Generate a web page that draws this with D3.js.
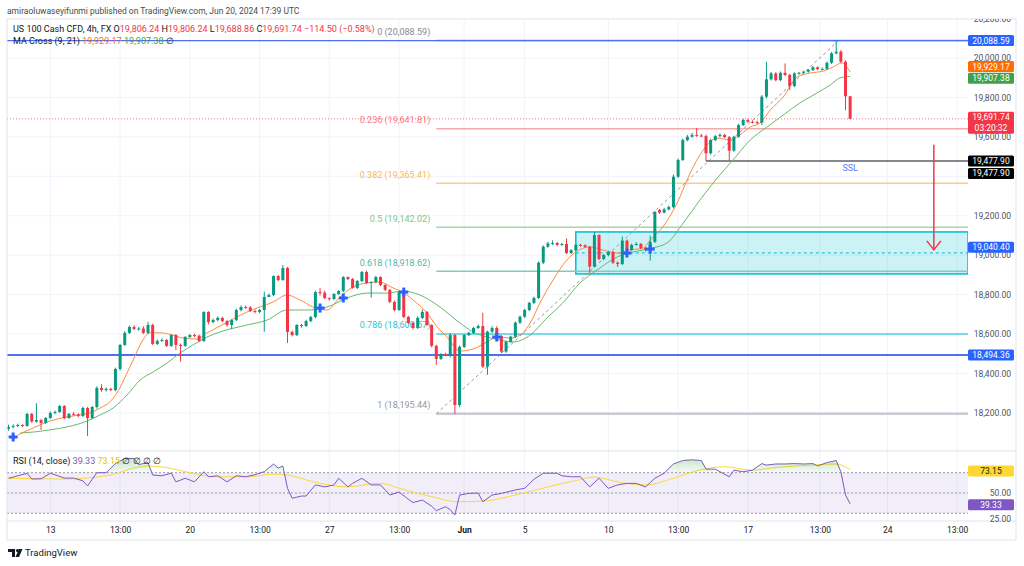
<!DOCTYPE html>
<html>
<head>
<meta charset="utf-8">
<script src="https://cdn.jsdelivr.net/npm/d3@7"></script>
<style>
  body { margin: 0; background: #fff; }
  svg { display: block; font-family: Roboto, "Liberation Sans", Arial, sans-serif; }
</style>
</head>
<body>
<svg id="chart" width="1024" height="566"></svg>
<script>
// Data (4h bars, index 0 = first bar on screen)____________________________
const opens = [
  18120,18129,18134,18139,18134,18195,18156,18164,18149,18174,
  18200,18205,18235,18174,18195,18193,18185,18225,18174,18230,
  18327,18316,18322,18316,18423,18545,18606,18636,18626,18628,
  18606,18646,18550,18565,18570,18540,18595,18545,18540,18585,
  18595,18592,18565,18712,18661,18671,18682,18666,18646,18671,
  18722,18737,18735,18717,18712,18722,18788,18798,18894,18874,
  18935,18611,18595,18646,18641,18666,18687,18813,18810,18782,
  18778,18803,18818,18889,18879,18834,18869,18915,18859,18864,
  18889,18849,18824,18763,18722,18813,18687,18656,18631,18682,
  18712,18646,18540,18474,18499,18489,18595,18240,18535,18595,
  18606,18631,18641,18435,18612,18631,18590,18511,18561,18587,
  18658,18688,18722,18758,18783,18962,19043,19060,19062,19052,
  19057,19011,19026,19052,19050,19042,18942,19102,18981,19001,
  19016,18962,18955,19074,19026,19052,19057,19037,19026,19068,
  19229,19216,19232,19244,19398,19483,19584,19601,19610,19607,
  19604,19517,19584,19604,19610,19599,19530,19601,19660,19686,
  19677,19675,19672,19804,19892,19922,19888,19925,19914,19858,
  19922,19925,19931,19939,19953,19944,19945,19976,20024,20032,
  19981,19806.24
];
const highs = [
  18140,18142,18146,18143,18200,18200,18249,18170,18180,18207,
  18212,18240,18240,18200,18205,18198,18232,18230,18236,18335,
  18345,18330,18328,18430,18550,18615,18643,18645,18636,18640,
  18662,18652,18572,18578,18575,18600,18600,18552,18590,18600,
  18602,18597,18716,18716,18678,18690,18688,18672,18676,18728,
  18745,18745,18742,18725,18728,18815,18805,18898,18900,18950,
  18940,18618,18650,18652,18672,18692,18820,18833,18820,18786,
  18808,18823,18894,18893,18884,18874,18920,18922,18868,18895,
  18893,18853,18828,18770,18820,18818,18692,18662,18690,18725,
  18718,18650,18546,18503,18505,18605,18600,18542,18600,18612,
  18636,18648,18708,18617,18640,18640,18595,18566,18592,18664,
  18694,18728,18764,18790,18968,19050,19068,19075,19068,19062,
  19085,19030,19056,19058,19055,19048,19118,19106,19006,19022,
  19022,18968,19095,19080,19058,19066,19062,19042,19100,19225,
  19235,19240,19252,19410,19490,19592,19610,19620,19645,19615,
  19612,19590,19610,19618,19616,19605,19606,19666,19692,19692,
  19684,19682,19812,19981,19930,19928,19932,19973,19920,19928,
  19930,19936,19945,19960,19958,19952,19982,20030,20088.59,20040,
  19988,19806.24
];
const lows = [
  18110,18122,18128,18128,18130,18150,18150,18114,18145,18170,
  18193,18200,18168,18170,18186,18178,18180,18083,18168,18222,
  18308,18309,18310,18310,18415,18540,18600,18620,18618,18600,
  18600,18545,18545,18560,18535,18535,18519,18460,18535,18580,
  18585,18560,18560,18650,18655,18665,18660,18638,18625,18666,
  18715,18728,18712,18705,18706,18612,18790,18792,18868,18870,
  18555,18588,18590,18632,18636,18660,18680,18795,18778,18770,
  18772,18798,18813,18874,18830,18828,18864,18854,18785,18858,
  18843,18818,18757,18715,18718,18680,18650,18622,18626,18676,
  18640,18533,18444,18469,18488,18482,18195.44,18230,18529,18590,
  18600,18626,18428,18393,18606,18585,18503,18505,18556,18580,
  18652,18682,18716,18752,18778,18955,19038,19052,19046,19048,
  19005,19006,19020,19044,19036,18910,18938,18975,18975,18995,
  18955,18940,18950,19020,19022,19048,19030,19018,18972,19062,
  19210,19212,19228,19238,19392,19478,19578,19596,19600,19598,
  19477.9,19510,19578,19598,19594,19477.9,19525,19596,19655,19670,
  19668,19664,19660,19795,19886,19882,19882,19908,19838,19852,
  19916,19920,19926,19934,19938,19938,19940,19970,20018,19975,
  19736,19688.86
];
const closes = [
  18129,18134,18139,18134,18195,18156,18164,18149,18174,18200,
  18205,18235,18174,18195,18193,18185,18225,18174,18230,18327,
  18316,18322,18316,18423,18545,18606,18636,18626,18628,18606,
  18646,18550,18565,18570,18540,18595,18545,18540,18585,18595,
  18592,18565,18712,18661,18671,18682,18666,18646,18671,18722,
  18737,18735,18717,18712,18722,18788,18798,18894,18874,18935,
  18611,18595,18646,18641,18666,18687,18813,18810,18782,18778,
  18803,18818,18889,18879,18834,18869,18915,18859,18864,18889,
  18849,18824,18763,18722,18813,18687,18656,18631,18682,18712,
  18646,18540,18474,18499,18494,18595,18240,18535,18595,18606,
  18631,18641,18435,18612,18631,18590,18511,18561,18587,18658,
  18688,18722,18758,18783,18962,19043,19060,19062,19052,19057,
  19011,19026,19052,19050,19042,18942,19102,18981,19001,19016,
  18962,18955,19074,19026,19052,19057,19037,19026,19068,19219,
  19216,19232,19244,19398,19483,19584,19601,19610,19607,19604,
  19517,19584,19604,19610,19599,19530,19601,19660,19686,19677,
  19675,19672,19804,19892,19922,19888,19925,19914,19858,19922,
  19925,19931,19939,19953,19944,19945,19976,20024,20032,19981,
  19806.24,19691.74
];

// MA Cross (9, 21)
const ma9Idx = [2,5.3,8.9,12.6,15.4,17.5,19.7,21.8,23.3,25.5,26.8,28.9,30.4,32.6,35.4,37.5,40.5,42.7,45.5,51.3,56.9,59.9,62.7,65.5,68.5,71.3,74.1,77.1,79.9,82.7,84.8,87,90,92.2,94.3,97.1,99.9,102.9,105.1,107.8,110,112.2,114.3,117.1,120.1,122.3,125,127.9,130.9,133.6,136.5,138,140.7,143.8,146.6,149.4,152.4,155.2,157.3,159.5,161.6,163.8,166.6,169.6,172.4,175.2,177.3,179.2,181];
const ma9Vals = [18088,18124,18159,18180,18190,18200,18225,18256,18301,18403,18469,18570,18606,18606,18595,18580,18575,18606,18641,18712,18763,18798,18773,18737,18722,18788,18839,18859,18864,18834,18813,18773,18707,18636,18585,18514,18524,18560,18585,18580,18595,18656,18758,18874,18976,19021,19042,19026,19011,19026,19037,19077,19143,19265,19417,19533,19594,19584,19610,19650,19670,19736,19802,19904,19924,19934,19954,19975,19929.17];
const ma21Idx = [2.5,5.3,8.9,12.6,16.9,19.7,22.5,25.5,28.3,31.1,34.1,36.9,39.7,42.7,45.5,51.3,55.6,59.9,64.2,68.5,72.8,77.1,81.4,84.8,88.5,92.8,97.1,99.9,102.9,105.7,108.5,112.2,115.8,119.2,122.9,126.6,130.9,134.3,137.3,141.6,145.1,148.7,152.4,155.8,159.5,163.1,166.6,170.2,173.9,176.7,178.8,181];
const ma21Vals = [18098,18103,18114,18129,18159,18190,18225,18291,18367,18408,18453,18504,18545,18585,18611,18646,18671,18722,18722,18737,18783,18808,18808,18818,18798,18737,18656,18611,18585,18570,18560,18595,18682,18758,18859,18925,18991,19016,19031,19062,19163,19280,19391,19483,19584,19650,19711,19772,19823,19863,19899,19907.38];
const crossIdx = [1, 67, 72, 85, 105, 133, 138];
const crossVals = [18078, 18732, 18783, 18813, 18585, 19011, 19031];

// RSI (14, close) and its moving average
const rsiIdx = [0,4,5,7,9,12,14,16,17,19,21,23,25,27,28,30,31,33,35,36,38,40,42,43,45,47,49,51,53,55,57,58,59,60,61,63,64,66,68,70,71,73,74,76,78,80,81,82,84,86,87,89,91,92,94,95,96,97,99,101,102,104,106,109,111,113,115,118,119,121,123,125,127,129,131,133,135,137,139,141,143,145,147,149,150,152,153,155,156,158,160,162,163,165,167,169,171,173,174,176,178,179,180,181];
const rsiVals = [64.5,69.4,63.8,64,69.5,64.7,64.7,62,56.9,70,70,79,84,84,78,80,67.7,67,69.5,61,64.5,61,71,66,67,61,67,66,68,71,78.6,74.5,76.6,54.6,44.8,47,47,58,56,58,64.5,56,59.5,64.5,58,58,53,48,51,43.8,40.6,43,37,32.6,36.5,33.5,28.3,48,49.6,50,41.4,48,49.6,53,54.6,63.5,69.5,69.5,67,66,66,56,64.5,54.6,58,59.5,59.5,56,64.5,69.5,78.6,82,82.7,82,73.5,73.5,71,66,72.5,71,72.5,79,77.5,78.6,78.6,79,78.6,79,76.6,80,82,71,48,39.33];
const rsiMaIdx = [0,12,19,23.5,26,30.4,34.7,39,44.5,51.5,57,60,65.6,72.6,79.6,85.3,90.9,96.5,102,109,116,121.8,126,131.6,137.2,142.9,148.5,154.1,159.7,165.3,172.4,177.9,181];
const rsiMaVals = [64.5,63.8,65.7,69.5,73.5,76.6,74.5,70,66,66,68.6,67.7,61,56,59.5,53,46.5,41.4,42,48,56,62,65.7,60.3,58,64.5,72.5,75.9,72.5,75.2,77.5,78.6,73.15];
const rsiLevels = [70, 50, 30];

// Axes
const priceTicks = [18200, 18400, 18600, 18800, 19000, 19200, 19400, 19600, 19800, 20000, 20200];
const rsiTicks = [50, 25];
const timeTickIdx = [9, 24, 39, 54, 69, 84, 98, 111, 129, 144, 159, 174.5, 189, 204];
const timeTickLabels = ['13', '13:00', '20', '13:00', '27', '13:00', 'Jun', '5', '10', '13:00', '17', '13:00', '24', '13:00'];

// Drawings
const fibLevels = [0, 0.236, 0.382, 0.5, 0.618, 0.786, 1];
const fibLineColors = ['#9598a1', '#f7a7ab', '#ffcc80', '#a5d6a7', '#80cbc4', '#4dd0e1', '#c8cad0'];
const fibTextColors = ['#868993', '#f77c80', '#ffb74d', '#81c784', '#4db6ac', '#26c6da', '#9598a1'];
const fibHigh = 20088.59, fibLow = 18195.44;
const fibStartIdx = 92, fibTopIdx = 178.5;
const levelLines = [20088.59, 18494.36];
const lastPrice = 19691.74;
const zoneTop = 19118, zoneBottom = 18905, zoneStartIdx = 122, zoneTag = 19040.40;
const sslPrice = 19477.90, sslStartIdx = 150;
const arrowIdx = 199, arrowFrom = 19560, arrowTo = 19027;

// Layout_________________________________________________________________
const svg = d3.select('#chart');
const left = 7, plotRight = 968, right = 1016;
const mainTop = 19, mainBottom = 450, rsiTop = 451, rsiBottom = 521, bottom = 540;
const fmt = d3.format(',.2f');
const fmt2 = v => fmt(Math.round(v * 100 + 1e-6) / 100);

const x = d3.scaleLinear().domain([0, 206]).range([8.5, 8.5 + 4.65 * 206]);
const y = d3.scaleLinear().domain([18012, 20198]).range([mainBottom, mainTop]);
const yr = d3.scaleLinear().domain([22.4, 91.4]).range([rsiBottom, rsiTop]);

const defs = svg.append('defs');
defs.append('clipPath').attr('id', 'clipMain')
  .append('rect').attr('x', left).attr('y', mainTop).attr('width', plotRight - left).attr('height', mainBottom - mainTop);
defs.append('clipPath').attr('id', 'clipAxis')
  .append('rect').attr('x', plotRight).attr('y', mainTop).attr('width', right - plotRight).attr('height', mainBottom - mainTop);
defs.append('clipPath').attr('id', 'clipRsi')
  .append('rect').attr('x', left).attr('y', rsiTop).attr('width', plotRight - left).attr('height', rsiBottom - rsiTop);
defs.append('clipPath').attr('id', 'clipOver')
  .append('rect').attr('x', left).attr('y', rsiTop).attr('width', plotRight - left).attr('height', yr(70) - rsiTop);
const grad = defs.append('linearGradient').attr('id', 'overGrad')
  .attr('gradientUnits', 'userSpaceOnUse').attr('x1', 0).attr('x2', 0).attr('y1', rsiTop).attr('y2', yr(70));
grad.append('stop').attr('offset', 0).attr('stop-color', '#4caf50').attr('stop-opacity', 0.45);
grad.append('stop').attr('offset', 1).attr('stop-color', '#4caf50').attr('stop-opacity', 0.05);

// Grid___________________________________________________________________
const grid = svg.append('g').attr('stroke', '#f0f3fa').attr('stroke-width', 1);
grid.selectAll('.vg').data(timeTickIdx).enter().append('line')
  .attr('x1', d => x(d)).attr('x2', d => x(d)).attr('y1', mainTop).attr('y2', rsiBottom);
grid.selectAll('.hg').data(priceTicks).enter().append('line')
  .attr('x1', left).attr('x2', plotRight).attr('y1', d => y(d)).attr('y2', d => y(d))
  .attr('clip-path', 'url(#clipMain)');

// Main pane______________________________________________________________
const main = svg.append('g').attr('clip-path', 'url(#clipMain)');

// demand zone
main.append('rect')
  .attr('x', x(zoneStartIdx)).attr('y', y(zoneTop))
  .attr('width', plotRight - x(zoneStartIdx)).attr('height', y(zoneBottom) - y(zoneTop))
  .attr('fill', 'rgba(0,188,212,0.2)').attr('stroke', '#00bcd4').attr('stroke-width', 1.5);
main.append('line')
  .attr('x1', x(zoneStartIdx)).attr('x2', plotRight)
  .attr('y1', y((zoneTop + zoneBottom) / 2)).attr('y2', y((zoneTop + zoneBottom) / 2))
  .attr('stroke', '#00bcd4').attr('stroke-dasharray', '3,3');

// fibonacci retracement
const fibPrice = l => fibHigh - l * (fibHigh - fibLow);
main.selectAll('.fib').data(fibLevels).enter().append('line')
  .attr('x1', x(fibStartIdx)).attr('x2', plotRight)
  .attr('y1', d => y(fibPrice(d))).attr('y2', d => y(fibPrice(d)))
  .attr('stroke', (d, i) => fibLineColors[i])
  .attr('stroke-width', d => d === 1 ? 2.5 : 1.5);
main.append('line')
  .attr('x1', x(fibStartIdx)).attr('y1', y(fibLow))
  .attr('x2', x(fibTopIdx)).attr('y2', y(fibHigh))
  .attr('stroke', '#9598a1').attr('stroke-dasharray', '3,3');
main.selectAll('.fibText').data(fibLevels).enter().append('text')
  .attr('x', x(fibStartIdx) - 6).attr('y', d => y(fibPrice(d)) - 8)
  .attr('text-anchor', 'end').attr('dominant-baseline', 'middle')
  .attr('font-size', 9).attr('fill', (d, i) => fibTextColors[i])
  .text(d => `${d} (${fmt2(fibPrice(d))})`);

// horizontal levels
main.selectAll('.lvl').data(levelLines).enter().append('line')
  .attr('x1', left).attr('x2', plotRight)
  .attr('y1', d => y(d)).attr('y2', d => y(d))
  .attr('stroke', '#4f6ff5').attr('stroke-width', (d, i) => i === 0 ? 1.2 : 2);
main.append('line')
  .attr('x1', left).attr('x2', plotRight).attr('y1', y(lastPrice)).attr('y2', y(lastPrice))
  .attr('stroke', '#f23645').attr('stroke-opacity', 0.7).attr('stroke-dasharray', '1,2');

// SSL line
main.append('line')
  .attr('x1', x(sslStartIdx)).attr('x2', plotRight).attr('y1', y(sslPrice)).attr('y2', y(sslPrice))
  .attr('stroke', '#5d606b').attr('stroke-width', 1.5);
main.append('text').attr('x', x(181)).attr('y', y(sslPrice) + 8)
  .attr('text-anchor', 'middle').attr('dominant-baseline', 'middle')
  .attr('font-size', 9).attr('fill', '#5b7cfa').text('SSL');

// moving averages
const maLine = d3.line().x(d => x(d[0])).y(d => y(d[1])).curve(d3.curveMonotoneX);
main.append('path').datum(d3.zip(ma21Idx, ma21Vals)).attr('d', maLine)
  .attr('fill', 'none').attr('stroke', '#66bb6a').attr('stroke-width', 1);
main.append('path').datum(d3.zip(ma9Idx, ma9Vals)).attr('d', maLine)
  .attr('fill', 'none').attr('stroke', '#ff8a3d').attr('stroke-width', 1);

// candles
const bars = d3.range(closes.length);
const candle = main.selectAll('.candle').data(bars).enter().append('g')
  .attr('fill', i => closes[i] >= opens[i] ? '#089981' : '#f23645')
  .attr('stroke', i => closes[i] >= opens[i] ? '#089981' : '#f23645');
candle.append('line')
  .attr('x1', i => x(i)).attr('x2', i => x(i))
  .attr('y1', i => y(highs[i])).attr('y2', i => y(lows[i])).attr('stroke-width', 1);
candle.append('rect')
  .attr('x', i => x(i) - 1.5).attr('width', 3).attr('stroke', 'none')
  .attr('y', i => y(Math.max(opens[i], closes[i])))
  .attr('height', i => Math.max(1, Math.abs(y(opens[i]) - y(closes[i]))));

// MA cross markers
const cross = main.selectAll('.cross').data(crossIdx).enter().append('g')
  .attr('transform', (d, i) => `translate(${x(d)},${y(crossVals[i])})`)
  .attr('fill', '#2962ff');
cross.append('rect').attr('x', -4.5).attr('y', -1.5).attr('width', 9).attr('height', 3);
cross.append('rect').attr('x', -1.5).attr('y', -4.5).attr('width', 3).attr('height', 9);

// target arrow
main.append('line')
  .attr('x1', x(arrowIdx)).attr('x2', x(arrowIdx)).attr('y1', y(arrowFrom)).attr('y2', y(arrowTo))
  .attr('stroke', '#f23645').attr('stroke-width', 1.5);
main.append('path')
  .attr('d', `M${x(arrowIdx) - 7},${y(arrowTo) - 9}L${x(arrowIdx)},${y(arrowTo)}L${x(arrowIdx) + 7},${y(arrowTo) - 9}`)
  .attr('fill', 'none').attr('stroke', '#f23645').attr('stroke-width', 1.5);

// RSI pane_______________________________________________________________
const rsiG = svg.append('g').attr('clip-path', 'url(#clipRsi)');
rsiG.append('rect').attr('x', left).attr('width', plotRight - left)
  .attr('y', yr(70)).attr('height', yr(30) - yr(70)).attr('fill', 'rgba(126,87,194,0.1)');
rsiG.selectAll('.rl').data(rsiLevels).enter().append('line')
  .attr('x1', left).attr('x2', plotRight).attr('y1', d => yr(d)).attr('y2', d => yr(d))
  .attr('stroke', '#9598a1').attr('stroke-dasharray', '2,2');
const rsiPts = d3.zip(rsiIdx, rsiVals);
svg.append('path').datum(rsiPts).attr('clip-path', 'url(#clipOver)')
  .attr('d', d3.area().x(d => x(d[0])).y0(yr(70)).y1(d => yr(d[1])))
  .attr('fill', 'url(#overGrad)');
rsiG.append('path').datum(d3.zip(rsiMaIdx, rsiMaVals))
  .attr('d', d3.line().x(d => x(d[0])).y(d => yr(d[1])).curve(d3.curveMonotoneX))
  .attr('fill', 'none').attr('stroke', '#fdd835').attr('stroke-width', 1);
rsiG.append('path').datum(rsiPts)
  .attr('d', d3.line().x(d => x(d[0])).y(d => yr(d[1])))
  .attr('fill', 'none').attr('stroke', '#7e57c2').attr('stroke-width', 1);

// Frame__________________________________________________________________
const frame = svg.append('g').attr('stroke', '#e0e3eb').attr('fill', 'none');
frame.append('rect').attr('x', left).attr('y', mainTop).attr('width', right - left).attr('height', bottom - mainTop);
frame.append('line').attr('x1', left).attr('x2', right).attr('y1', rsiTop).attr('y2', rsiTop);
frame.append('line').attr('x1', left).attr('x2', right).attr('y1', rsiBottom).attr('y2', rsiBottom);

// Price tags on the axis (collected first to know what they cover)
const tags = [];
function tag(yc, lines, bg, fg) {
  tags.push({ top: yc - 5.5, bottom: yc - 5.5 + lines.length * 11, lines, bg, fg, yc });
}
tag(y(levelLines[0]), [fmt(levelLines[0])], '#2962ff', '#fff');
tag(y(ma9Vals[ma9Vals.length - 1]) - 5.5, [fmt(ma9Vals[ma9Vals.length - 1])], '#ff6d00', '#fff');
tag(y(ma21Vals[ma21Vals.length - 1]) + 2, [fmt(ma21Vals[ma21Vals.length - 1])], '#43a047', '#fff');
tag(y(lastPrice) - 1.5, [fmt(lastPrice), '03:20:32'], '#f23645', '#fff');
tag(y(sslPrice), [fmt(sslPrice)], '#000', '#fff');
tag(y(sslPrice) + 12.5, [fmt(sslPrice)], '#000', '#fff');
tag(y(zoneTag), [fmt(zoneTag)], '#2962ff', '#fff');
tag(y(levelLines[1]), [fmt(levelLines[1])], '#2962ff', '#fff');
tag(yr(rsiMaVals[rsiMaVals.length - 1]) + 1.5, [d3.format('.2f')(rsiMaVals[rsiMaVals.length - 1])], '#fdd835', '#131722');
tag(yr(rsiVals[rsiVals.length - 1]) + 1, [d3.format('.2f')(rsiVals[rsiVals.length - 1])], '#7e57c2', '#fff');
const covered = v => tags.some(t => y(v) > t.top && y(v) < t.bottom);

// Price axis_____________________________________________________________
const axisG = svg.append('g').attr('clip-path', 'url(#clipAxis)')
  .append('g').attr('transform', `translate(${right - 5},0)`);
axisG.call(d3.axisRight(y).tickValues(priceTicks.filter(v => !covered(v))).tickSize(0).tickFormat(fmt));
axisG.select('.domain').remove();
axisG.selectAll('text').attr('text-anchor', 'end').attr('x', 0)
  .attr('font-family', 'Roboto, "Liberation Sans", sans-serif')
  .attr('font-size', 8.5).attr('fill', '#50535e');

const rsiAxis = svg.append('g').attr('transform', `translate(${right - 5},0)`);
rsiAxis.call(d3.axisRight(yr).tickValues(rsiTicks).tickSize(0).tickFormat(d3.format('.2f')));
rsiAxis.select('.domain').remove();
rsiAxis.selectAll('text').attr('text-anchor', 'end').attr('x', 0)
  .attr('font-family', 'Roboto, "Liberation Sans", sans-serif')
  .attr('font-size', 8.5).attr('fill', '#50535e');

// Time axis
const xAxis = svg.append('g').attr('transform', `translate(0,${rsiBottom})`)
  .call(d3.axisBottom(x).tickValues(timeTickIdx).tickSize(0).tickFormat((d, i) => timeTickLabels[i]));
xAxis.select('.domain').remove();
xAxis.selectAll('text').attr('y', 6)
  .attr('font-family', 'Roboto, "Liberation Sans", sans-serif')
  .attr('font-size', 8.5).attr('fill', '#131722')
  .attr('font-weight', (d, i) => timeTickLabels[i] === 'Jun' ? 'bold' : 'normal');

// draw the tags
tags.forEach(t => {
  const g = svg.append('g');
  g.append('rect').attr('x', plotRight).attr('y', t.top).attr('width', 46).attr('height', t.bottom - t.top)
    .attr('rx', 1.5).attr('fill', t.bg);
  t.lines.forEach((s, k) => {
    g.append('text').attr('x', plotRight + 23).attr('y', t.yc + k * 11)
      .attr('text-anchor', 'middle').attr('dominant-baseline', 'central')
      .attr('font-size', 8.5).attr('fill', t.fg).text(s);
  });
});

// Header texts___________________________________________________________
svg.append('text').attr('x', 7).attr('y', 12).attr('dominant-baseline', 'middle')
  .attr('font-size', 8.5).attr('fill', '#4a4a4a')
  .text('amiraoluwaseyifunmi published on TradingView.com, Jun 20, 2024 17:39 UTC');

const legend = svg.append('text').attr('x', 13).attr('y', 30).attr('dominant-baseline', 'middle')
  .attr('font-size', 9).attr('fill', '#131722');
legend.append('tspan').text('US 100 Cash CFD, 4h, FX ');
[['O', opens[opens.length - 1]], ['H', highs[highs.length - 1]], ['L', lows[lows.length - 1]], ['C', closes[closes.length - 1]]]
  .forEach(p => {
    legend.append('tspan').attr('fill', '#131722').text(' ' + p[0]);
    legend.append('tspan').attr('fill', '#f23645').text(fmt(p[1]));
  });
const chg = closes[closes.length - 1] - closes[closes.length - 2];
legend.append('tspan').attr('fill', '#f23645')
  .text(`  \u2212${fmt(Math.abs(chg))} (\u2212${(Math.abs(chg) / closes[closes.length - 2] * 100).toFixed(2)}%)`);

const maLegend = svg.append('text').attr('x', 13).attr('y', 42).attr('dominant-baseline', 'middle')
  .attr('font-size', 9).attr('fill', '#131722');
maLegend.append('tspan').text('MA Cross (9, 21)  ');
maLegend.append('tspan').attr('fill', '#ff6d00').text(fmt(ma9Vals[ma9Vals.length - 1]) + '  ');
maLegend.append('tspan').attr('fill', '#43a047').text(fmt(ma21Vals[ma21Vals.length - 1]) + '  ');
maLegend.append('tspan').text('\u2205');

const rsiLegend = svg.append('text').attr('x', 13).attr('y', 462).attr('dominant-baseline', 'middle')
  .attr('font-size', 9).attr('fill', '#131722');
rsiLegend.append('tspan').text('RSI (14, close)  ');
rsiLegend.append('tspan').attr('fill', '#7e57c2').text(d3.format('.2f')(rsiVals[rsiVals.length - 1]) + '  ');
rsiLegend.append('tspan').attr('fill', '#e6c200').text(d3.format('.2f')(rsiMaVals[rsiMaVals.length - 1]) + '  ');
rsiLegend.append('tspan').text('\u2205  \u2205  \u2205  \u2205');

// TradingView logo
const logo = svg.append('g').attr('fill', '#131722');
logo.append('path').attr('d', 'M8,549h7v8h-3v-5h-4z');
logo.append('circle').attr('cx', 17.5).attr('cy', 550.5).attr('r', 1.6);
logo.append('path').attr('d', 'M19,549h3.5l-3.5,8h-3.5z');
svg.append('text').attr('x', 25).attr('y', 553.5).attr('dominant-baseline', 'middle')
  .attr('font-size', 9.5).attr('fill', '#131722').text('TradingView');
</script>
</body>
</html>
